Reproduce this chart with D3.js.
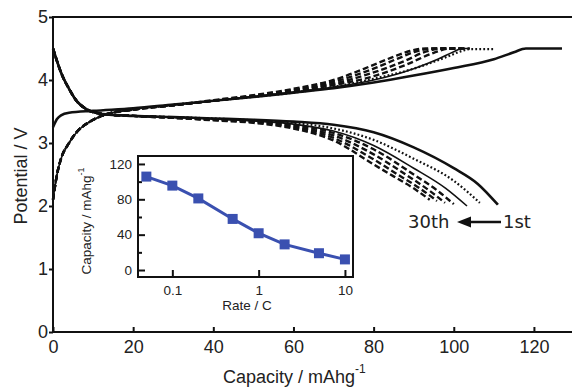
<!DOCTYPE html>
<html>
<head>
<meta charset="utf-8">
<script src="https://cdn.jsdelivr.net/npm/d3@7"></script>
<style>
  body { margin: 0; background: #fff; }
  svg { display: block; font-family: 'Liberation Sans', Arial, sans-serif; }
</style>
</head>
<body>
<svg id="chart" width="572" height="387"></svg>
<script>
// main chart ticks
const xTicks = [0, 20, 40, 60, 80, 100, 120];
const yTicks = [0, 1, 2, 3, 4, 5];

// charge curves [capacity, potential]
const charge1 = [[0, 3.25], [1, 3.38], [2, 3.44], [4, 3.48], [10, 3.51], [20, 3.55], [30, 3.61], [40, 3.67], [50, 3.73], [60, 3.8], [70, 3.87], [80, 3.96], [90, 4.07], [100, 4.19], [110, 4.33], [115, 4.44], [118, 4.5], [127, 4.5]];
const charge2 = [[0, 2.1], [1, 2.5], [2, 2.75], [4, 3.0], [6, 3.18], [9, 3.33], [13, 3.45], [20, 3.53], [30, 3.6], [40, 3.67], [50, 3.73], [60, 3.8], [70, 3.89], [80, 4.02], [90, 4.18], [98, 4.36], [102, 4.46], [104, 4.49], [110, 4.49]];
const charge3 = [[0, 2.1], [1, 2.5], [2, 2.75], [4, 3.0], [6, 3.18], [9, 3.33], [13, 3.45], [20, 3.53], [30, 3.6], [40, 3.67], [50, 3.74], [60, 3.81], [70, 3.89], [80, 4.0], [90, 4.18], [96, 4.33], [100, 4.45], [102, 4.5], [104, 4.5]];
const chargeD1 = [[0, 2.1], [1, 2.5], [2, 2.75], [4, 3.0], [6, 3.18], [9, 3.33], [13, 3.45], [20, 3.53], [30, 3.6], [40, 3.67], [50, 3.74], [60, 3.82], [70, 3.92], [80, 4.06], [88, 4.24], [95, 4.43], [99, 4.5], [104, 4.5]];
const chargeD2 = [[0, 2.1], [1, 2.5], [2, 2.75], [4, 3.0], [6, 3.18], [9, 3.33], [13, 3.45], [20, 3.53], [30, 3.6], [40, 3.67], [50, 3.74], [60, 3.83], [70, 3.94], [80, 4.12], [88, 4.31], [93, 4.45], [97, 4.5], [103, 4.5]];
const chargeD3 = [[0, 2.1], [1, 2.5], [2, 2.75], [4, 3.0], [6, 3.18], [9, 3.33], [13, 3.45], [20, 3.53], [30, 3.6], [40, 3.67], [50, 3.75], [60, 3.84], [70, 3.97], [80, 4.18], [86, 4.34], [91, 4.46], [95, 4.5], [102, 4.5]];
const chargeD4 = [[0, 2.1], [1, 2.5], [2, 2.75], [4, 3.0], [6, 3.18], [9, 3.33], [13, 3.45], [20, 3.53], [30, 3.6], [40, 3.68], [50, 3.76], [60, 3.86], [70, 4.0], [80, 4.24], [85, 4.37], [89, 4.46], [93, 4.5], [101, 4.5]];

// discharge curves [capacity, potential]
const discharge1 = [[0, 4.5], [1, 4.3], [2, 4.12], [4, 3.86], [6, 3.66], [8, 3.55], [10, 3.49], [14, 3.45], [20, 3.43], [30, 3.41], [40, 3.39], [50, 3.37], [60, 3.34], [70, 3.29], [80, 3.17], [90, 2.93], [100, 2.6], [106, 2.35], [111, 2.02]];
const discharge2 = [[0, 4.5], [1, 4.3], [2, 4.12], [4, 3.86], [6, 3.66], [8, 3.55], [10, 3.49], [14, 3.45], [20, 3.43], [30, 3.41], [40, 3.39], [50, 3.36], [60, 3.32], [70, 3.23], [80, 3.05], [90, 2.75], [100, 2.4], [106.5, 2.05]];
const discharge3 = [[0, 4.5], [1, 4.3], [2, 4.12], [4, 3.86], [6, 3.66], [8, 3.55], [10, 3.49], [14, 3.45], [20, 3.43], [30, 3.41], [40, 3.38], [50, 3.35], [60, 3.3], [70, 3.19], [80, 2.96], [90, 2.6], [98, 2.28], [103.3, 2.0]];
const dischargeD1 = [[0, 4.5], [1, 4.3], [2, 4.12], [4, 3.86], [6, 3.66], [8, 3.55], [10, 3.49], [14, 3.45], [20, 3.43], [30, 3.41], [40, 3.38], [50, 3.35], [60, 3.29], [70, 3.16], [80, 2.9], [90, 2.5], [96, 2.24], [100, 2.03]];
const dischargeD2 = [[0, 4.5], [1, 4.3], [2, 4.12], [4, 3.86], [6, 3.66], [8, 3.55], [10, 3.49], [14, 3.45], [20, 3.43], [30, 3.4], [40, 3.37], [50, 3.34], [60, 3.27], [70, 3.12], [80, 2.82], [88, 2.5], [94, 2.24], [97.8, 2.05]];
const dischargeD3 = [[0, 4.5], [1, 4.3], [2, 4.12], [4, 3.86], [6, 3.66], [8, 3.55], [10, 3.49], [14, 3.45], [20, 3.43], [30, 3.4], [40, 3.37], [50, 3.33], [60, 3.25], [70, 3.08], [80, 2.74], [86, 2.5], [92, 2.26], [95.8, 2.08]];
const dischargeD4 = [[0, 4.5], [1, 4.3], [2, 4.12], [4, 3.86], [6, 3.66], [8, 3.55], [10, 3.49], [14, 3.45], [20, 3.43], [30, 3.4], [40, 3.36], [50, 3.32], [60, 3.23], [70, 3.04], [80, 2.66], [85, 2.47], [90, 2.28], [94, 2.1]];

// inset: rate capability
const rates = [0.05, 0.1, 0.2, 0.5, 1, 2, 5, 10];
const rateCapacity = [105.7, 95.5, 81, 57.8, 41.6, 29, 19, 12];
const insetXTicks = [0.1, 1, 10];
const insetYTicks = [0, 20, 40, 60, 80, 100, 120];

const svg = d3.select('#chart');
const font = "'Liberation Sans', Arial, sans-serif";

const x = d3.scaleLinear().domain([0, 130]).range([53, 574]);
const y = d3.scaleLinear().domain([0, 5]).range([332, 17]);

const curves = [
  { pts: charge1, dash: null, w: 2.6 },
  { pts: charge2, dash: '1.8,2.2', w: 2.2 },
  { pts: charge3, dash: null, w: 1.6 },
  { pts: chargeD1, dash: '6,3', w: 2.4 },
  { pts: chargeD2, dash: '6,3', w: 2.4 },
  { pts: chargeD3, dash: '6,3', w: 2.4 },
  { pts: chargeD4, dash: '6,3', w: 2.4 },
  { pts: discharge1, dash: null, w: 2.6 },
  { pts: discharge2, dash: '1.8,2.2', w: 2.2 },
  { pts: discharge3, dash: null, w: 1.6 },
  { pts: dischargeD1, dash: '6,3', w: 2.4 },
  { pts: dischargeD2, dash: '6,3', w: 2.4 },
  { pts: dischargeD3, dash: '6,3', w: 2.4 },
  { pts: dischargeD4, dash: '6,3', w: 2.4 }
];

const line = d3.line()
  .x(d => x(d[0]))
  .y(d => y(d[1]))
  .curve(d3.curveMonotoneX);

svg.append('g')
  .selectAll('path')
  .data(curves)
  .enter()
  .append('path')
  .attr('d', d => line(d.pts))
  .attr('fill', 'none')
  .attr('stroke', '#111')
  .attr('stroke-width', d => d.w)
  .attr('stroke-dasharray', d => d.dash);

/* frame */
svg.append('rect')
  .attr('x', x(0)).attr('y', y(5))
  .attr('width', x(130) - x(0)).attr('height', y(0) - y(5))
  .attr('fill', 'none').attr('stroke', '#111').attr('stroke-width', 2);

/* axes */
const xAxis = d3.axisBottom(x).tickValues(xTicks).tickSizeInner(-5).tickSizeOuter(0).tickPadding(8);
const gx = svg.append('g').attr('transform', `translate(0,${y(0)})`).call(xAxis);
gx.select('.domain').remove();
gx.selectAll('line').attr('stroke', '#111').attr('stroke-width', 2);
gx.selectAll('text').attr('font-size', 18).attr('fill', '#222').attr('font-family', font);

const yAxis = d3.axisLeft(y).tickValues(yTicks).tickFormat(d3.format('d')).tickSizeInner(4).tickSizeOuter(0).tickPadding(1);
const gy = svg.append('g').attr('transform', `translate(${x(0)},0)`).call(yAxis);
gy.select('.domain').remove();
gy.selectAll('line').attr('stroke', '#111').attr('stroke-width', 2);
gy.selectAll('text').attr('font-size', 18).attr('fill', '#222').attr('font-family', font);

// axis titles
const xt = svg.append('text')
  .attr('x', 223).attr('y', 383)
  .attr('font-size', 18).attr('fill', '#222');
xt.append('tspan').text('Capacity / mAhg');
xt.append('tspan').attr('dy', -10).attr('font-size', 12).text('-1');

svg.append('text')
  .attr('transform', 'translate(27,176) rotate(-90)')
  .attr('text-anchor', 'middle')
  .attr('font-size', 18).attr('fill', '#222')
  .text('Potential / V');

// annotation
const noteFont = "'DejaVu Sans', Verdana, sans-serif";
svg.append('text').attr('x', 408).attr('y', 228).attr('font-family', noteFont).attr('font-size', 18).attr('fill', '#222').text('30th');
svg.append('text').attr('x', 503).attr('y', 228).attr('font-family', noteFont).attr('font-size', 18).attr('fill', '#222').text('1st');
svg.append('line')
  .attr('x1', 501).attr('y1', 222).attr('x2', 468).attr('y2', 222)
  .attr('stroke', '#111').attr('stroke-width', 2.5);
svg.append('path')
  .attr('d', 'M457,222 L471,216.5 L471,227.5 Z')
  .attr('fill', '#111');

/* inset */
const ix = d3.scaleLog().domain([0.04, 12.4]).range([138, 353]);
const iy = d3.scaleLinear().domain([-7.9, 129]).range([277, 156]);

svg.append('rect')
  .attr('x', 138).attr('y', 156).attr('width', 215).attr('height', 121)
  .attr('fill', '#fff').attr('stroke', '#111').attr('stroke-width', 2);

const ixAxis = d3.axisBottom(ix).tickValues(insetXTicks).tickFormat(d3.format('')).tickSizeInner(-7).tickSizeOuter(0).tickPadding(8.5);
const gix = svg.append('g').attr('transform', 'translate(0,277)').call(ixAxis);
gix.select('.domain').remove();
gix.selectAll('line').attr('stroke', '#111').attr('stroke-width', 2);
gix.selectAll('text').attr('font-size', 13.5).attr('fill', '#222').attr('font-family', font);

const iyAxis = d3.axisLeft(iy).tickValues(insetYTicks)
  .tickFormat(d => d % 40 === 0 ? d : '')
  .tickSizeInner(0).tickSizeOuter(0).tickPadding(6);
const giy = svg.append('g').attr('transform', 'translate(138,0)').call(iyAxis);
giy.select('.domain').remove();
giy.selectAll('.tick line')
  .attr('x2', d => d % 40 === 0 ? 7 : 4)
  .attr('stroke', '#111').attr('stroke-width', 2);
giy.selectAll('text').attr('font-size', 13.5).attr('fill', '#222').attr('font-family', font);

svg.append('text')
  .attr('x', 247).attr('y', 310)
  .attr('text-anchor', 'middle')
  .attr('font-size', 13.5).attr('fill', '#222')
  .text('Rate / C');

const iyt = svg.append('text')
  .attr('transform', 'translate(91,221) rotate(-90)')
  .attr('text-anchor', 'middle')
  .attr('font-size', 13.5).attr('fill', '#222');
iyt.append('tspan').text('Capacity / mAhg');
iyt.append('tspan').attr('dy', -7).attr('font-size', 9).text('-1');

const rateData = rates.map((r, i) => [r, rateCapacity[i]]);

svg.append('path')
  .datum(rateData)
  .attr('d', d3.line().x(d => ix(d[0])).y(d => iy(d[1])))
  .attr('fill', 'none')
  .attr('stroke', '#3a50b0')
  .attr('stroke-width', 3);

svg.append('g')
  .selectAll('rect')
  .data(rateData)
  .enter()
  .append('rect')
  .attr('x', d => ix(d[0]) - 5)
  .attr('y', d => iy(d[1]) - 5)
  .attr('width', 10).attr('height', 10)
  .attr('fill', '#3a50b0');
</script>
</body>
</html>
